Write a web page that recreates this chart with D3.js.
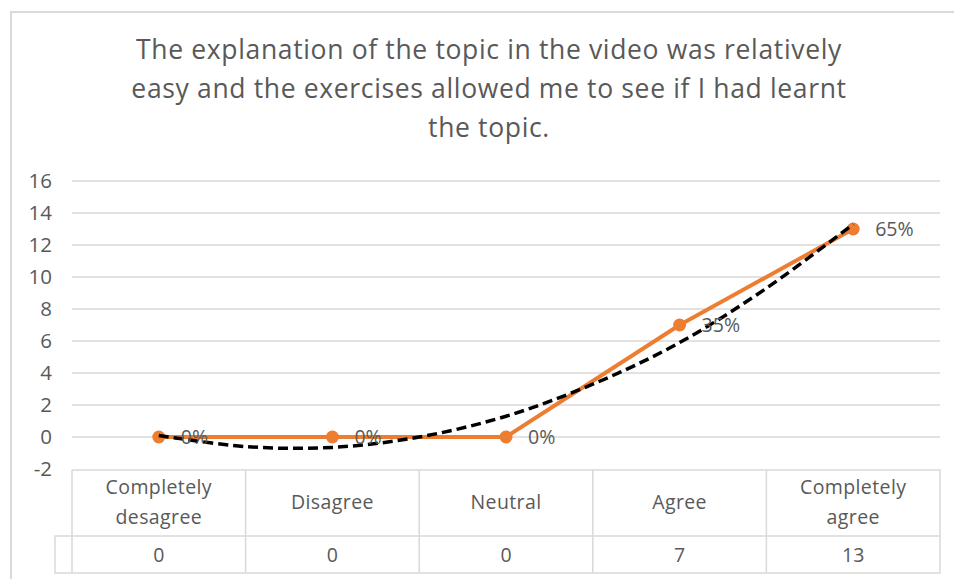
<!DOCTYPE html>
<html>
<head>
<meta charset="utf-8">
<script src="https://cdn.jsdelivr.net/npm/d3@7"></script>
<style>
  body { margin: 0; background: #fff; }
  text { font-family: "Open Sans", sans-serif; fill: #595959; }
</style>
</head>
<body>
<div id="chart"></div>
<script>
// data
const categories = ["Completely desagree", "Disagree", "Neutral", "Agree", "Completely agree"];
const values = [0, 0, 0, 7, 13];
const percentLabels = ["0%", "0%", "0%", "35%", "65%"];
// trendline (polynomial) read at every half category
const trendPos = [0, 0.5, 1, 1.5, 2, 2.5, 3, 3.5, 4];
const trendVals = [0.1, -0.6, -0.65, 0.0, 1.3, 3.3, 5.9, 9.3, 13.3];
const yTicks = [-2, 0, 2, 4, 6, 8, 10, 12, 14, 16];
const titleLines = [
    "The explanation of the topic in the video was relatively",
    "easy and the exercises allowed me to see if I had learnt",
    "the topic."
];

const W = 954, H = 579;
const plot = { left: 72, right: 940, top: 181, bottom: 469 };

const svg = d3.select("#chart")
    .append("svg")
    .attr("width", W)
    .attr("height", H);

// outer frame (clipped on the right and bottom)
svg.append("path")
    .attr("d", `M11,${H + 2}V12H${W + 2}`)
    .attr("fill", "none")
    .attr("stroke", "#d9d9d9")
    .attr("stroke-width", 2);

// title
svg.append("g")
    .selectAll("text")
    .data(titleLines)
    .join("text")
    .attr("x", 489)
    .attr("y", (d, i) => 59 + i * 39)
    .attr("text-anchor", "middle")
    .style("font-size", "26.5px")
    .style("letter-spacing", "0.65px")
    .text(d => d);

// scales
const x = d3.scaleBand()
    .domain(categories)
    .range([plot.left, plot.right]);
const xc = d => x(d) + x.bandwidth() / 2;
const xi = d3.scaleLinear()
    .domain([0, categories.length - 1])
    .range([xc(categories[0]), xc(categories[categories.length - 1])]);
const y = d3.scaleLinear()
    .domain([-2, 16])
    .range([plot.bottom, plot.top]);

// gridlines
svg.append("g")
    .selectAll("line")
    .data(yTicks.filter(d => d > -2))
    .join("line")
    .attr("x1", plot.left)
    .attr("x2", plot.right)
    .attr("y1", d => y(d))
    .attr("y2", d => y(d))
    .attr("stroke", "#d9d9d9")
    .attr("stroke-width", 1.5);

// y axis labels
const yAxis = svg.append("g")
    .attr("transform", `translate(${plot.left - 20},0)`)
    .call(d3.axisLeft(y).tickValues(yTicks).tickSize(0).tickPadding(0).tickFormat(d => String(d)));
yAxis.select(".domain").remove();
yAxis.selectAll("text")
    .style("font-size", "20.5px")
    .style("font-family", "'Open Sans', sans-serif")
    .attr("fill", "#595959");

// data table under the plot
const rowTop = 470, rowMid = 536, rowBot = 573, keyLeft = 55;
const table = svg.append("g")
    .attr("stroke", "#d9d9d9")
    .attr("stroke-width", 1.5)
    .attr("fill", "none");
table.append("path")
    .attr("d", `M${plot.left},${rowTop}H${plot.right}V${rowBot}H${keyLeft}V${rowMid}H${plot.right}`);
table.selectAll("line")
    .data(categories.map(d => x(d)))
    .join("line")
    .attr("x1", d => d)
    .attr("x2", d => d)
    .attr("y1", rowTop)
    .attr("y2", rowBot);

svg.append("g")
    .selectAll("text")
    .data(categories)
    .join("text")
    .attr("x", d => xc(d))
    .attr("y", rowTop + 33)
    .attr("text-anchor", "middle")
    .style("font-size", "19.5px")
    .style("letter-spacing", "0.4px")
    .each(function (d) {
        const words = d.split(" ");
        const t = d3.select(this);
        if (words.length > 1) {
            t.append("tspan").attr("x", xc(d)).attr("dy", "-9").text(words[0]);
            t.append("tspan").attr("x", xc(d)).attr("dy", "30").text(words.slice(1).join(" "));
        } else {
            t.attr("dy", "6").text(d);
        }
    });

svg.append("g")
    .selectAll("text")
    .data(values)
    .join("text")
    .attr("x", (d, i) => xc(categories[i]))
    .attr("y", rowMid + 26)
    .attr("text-anchor", "middle")
    .style("font-size", "19.5px")
    .text(d => d);

// main line
const line = d3.line()
    .x((d, i) => xc(categories[i]))
    .y(d => y(d));
svg.append("path")
    .datum(values)
    .attr("d", line)
    .attr("fill", "none")
    .attr("stroke", "#ED7D31")
    .attr("stroke-width", 4)
    .attr("stroke-linejoin", "round");

svg.append("g")
    .selectAll("circle")
    .data(values)
    .join("circle")
    .attr("cx", (d, i) => xc(categories[i]))
    .attr("cy", d => y(d))
    .attr("r", 6.5)
    .attr("fill", "#ED7D31");

// trendline
const trend = d3.line()
    .x(d => xi(d[0]))
    .y(d => y(d[1]))
    .curve(d3.curveCatmullRom);
svg.append("path")
    .datum(trendPos.map((p, i) => [p, trendVals[i]]))
    .attr("d", trend)
    .attr("fill", "none")
    .attr("stroke", "#000")
    .attr("stroke-width", 3.5)
    .attr("stroke-dasharray", "10,5");

// data labels
svg.append("g")
    .selectAll("text")
    .data(values)
    .join("text")
    .attr("x", (d, i) => xc(categories[i]) + 22)
    .attr("y", d => y(d) + 7)
    .style("font-size", "19.5px")
    .text((d, i) => percentLabels[i]);
</script>
</body>
</html>
